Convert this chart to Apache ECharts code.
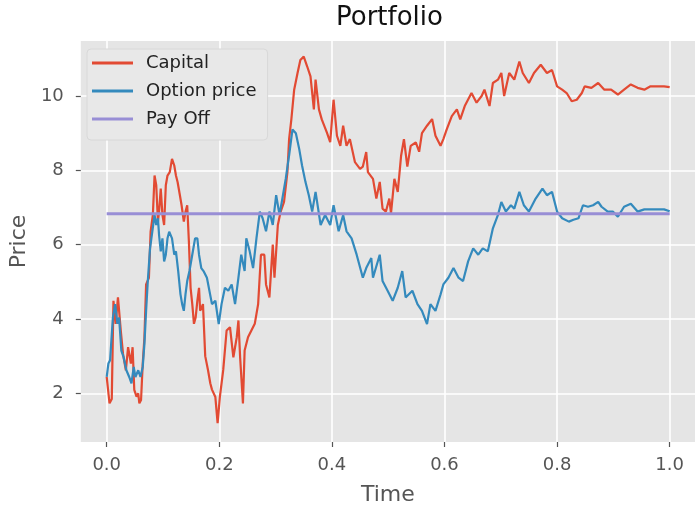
<!DOCTYPE html>
<html>
<head>
<meta charset="utf-8">
<script src="https://cdn.jsdelivr.net/npm/echarts@6/dist/echarts.min.js"></script>
<style>
html,body{margin:0;padding:0;background:#fff;}
#chart{width:695px;height:511px;}
</style>
</head>
<body>
<div id="chart"></div>
<script>
var capitalT = [0.000,0.005,0.009,0.012,0.016,0.020,0.025,0.029,0.034,0.038,0.043,0.046,0.049,0.053,0.056,0.058,0.061,0.064,0.067,0.070,0.075,0.078,0.082,0.085,0.088,0.091,0.093,0.096,0.099,0.102,0.105,0.108,0.112,0.116,0.120,0.123,0.126,0.130,0.133,0.137,0.140,0.143,0.146,0.149,0.152,0.155,0.158,0.161,0.164,0.166,0.171,0.175,0.180,0.184,0.187,0.193,0.197,0.201,0.207,0.213,0.219,0.225,0.231,0.234,0.237,0.242,0.245,0.251,0.257,0.263,0.269,0.274,0.280,0.283,0.289,0.295,0.298,0.304,0.309,0.315,0.321,0.324,0.328,0.333,0.339,0.344,0.350,0.356,0.362,0.368,0.371,0.377,0.382,0.391,0.397,0.403,0.409,0.415,0.420,0.426,0.432,0.441,0.450,0.455,0.461,0.464,0.473,0.479,0.485,0.490,0.496,0.502,0.505,0.511,0.517,0.523,0.528,0.534,0.540,0.549,0.555,0.560,0.569,0.578,0.584,0.593,0.598,0.604,0.613,0.622,0.628,0.636,0.648,0.657,0.666,0.671,0.680,0.686,0.695,0.701,0.706,0.715,0.724,0.733,0.739,0.750,0.759,0.771,0.782,0.791,0.800,0.809,0.817,0.826,0.835,0.844,0.849,0.861,0.873,0.884,0.896,0.908,0.919,0.931,0.943,0.955,0.966,0.978,0.990,1.000];
var capital = [2.44,1.73,1.85,4.49,3.87,4.58,3.69,3.06,2.62,3.24,2.80,3.24,2.09,1.91,2.00,1.73,1.82,2.80,3.50,4.93,5.11,6.35,6.80,7.86,7.60,6.62,6.89,7.51,6.80,6.53,7.60,7.86,7.95,8.31,8.13,7.86,7.68,7.33,7.06,6.62,6.89,7.06,6.08,4.84,4.40,3.87,4.04,4.49,4.84,4.22,4.40,3.00,2.62,2.27,2.10,1.90,1.20,1.90,2.63,3.69,3.78,2.97,3.51,3.96,2.97,1.73,3.15,3.51,3.69,3.87,4.40,5.73,5.73,4.93,4.58,6.00,5.11,6.53,6.89,7.15,7.95,8.84,9.37,10.17,10.62,10.97,11.06,10.80,10.53,9.64,10.44,9.64,9.37,9.02,8.76,9.90,8.93,8.66,9.20,8.66,8.84,8.22,8.04,8.10,8.49,7.95,7.77,7.24,7.69,6.97,6.89,7.24,6.84,7.77,7.42,8.40,8.84,8.10,8.66,8.75,8.50,9.00,9.20,9.38,8.93,8.66,8.84,9.10,9.46,9.64,9.37,9.73,10.08,9.82,10.00,10.17,9.73,10.35,10.44,10.62,10.00,10.62,10.44,10.93,10.62,10.35,10.62,10.84,10.62,10.70,10.26,10.17,10.08,9.86,9.90,10.08,10.26,10.22,10.35,10.17,10.17,10.04,10.17,10.31,10.22,10.17,10.26,10.26,10.26,10.24];

var optionT = [0.000,0.003,0.006,0.011,0.015,0.019,0.022,0.026,0.030,0.035,0.040,0.044,0.048,0.051,0.056,0.060,0.064,0.067,0.070,0.073,0.077,0.081,0.085,0.088,0.091,0.093,0.096,0.099,0.102,0.105,0.108,0.111,0.116,0.120,0.123,0.127,0.131,0.134,0.137,0.140,0.143,0.147,0.152,0.157,0.161,0.164,0.168,0.172,0.178,0.187,0.193,0.199,0.204,0.210,0.216,0.222,0.228,0.234,0.239,0.245,0.248,0.254,0.260,0.266,0.272,0.277,0.283,0.289,0.295,0.301,0.307,0.312,0.318,0.324,0.330,0.336,0.342,0.347,0.353,0.359,0.365,0.371,0.380,0.388,0.397,0.403,0.412,0.420,0.426,0.435,0.444,0.455,0.461,0.470,0.473,0.485,0.490,0.499,0.508,0.517,0.525,0.531,0.543,0.552,0.560,0.569,0.575,0.584,0.593,0.598,0.607,0.616,0.625,0.633,0.642,0.651,0.660,0.668,0.677,0.686,0.695,0.701,0.709,0.718,0.724,0.733,0.741,0.750,0.762,0.774,0.782,0.791,0.800,0.809,0.821,0.829,0.838,0.846,0.855,0.864,0.873,0.879,0.890,0.899,0.908,0.919,0.931,0.943,0.955,0.966,0.978,0.990,1.000];
var optionPrice = [2.44,2.80,2.89,4.04,4.40,3.87,4.04,3.15,2.97,2.62,2.44,2.27,2.71,2.44,2.62,2.44,2.71,3.33,4.22,5.02,5.90,6.35,6.80,6.53,6.71,6.26,5.82,6.17,5.55,5.73,6.17,6.35,6.17,5.73,5.82,5.29,4.67,4.40,4.22,4.67,5.02,5.29,5.73,6.17,6.17,5.73,5.37,5.29,5.11,4.40,4.49,3.86,4.40,4.84,4.76,4.93,4.40,5.11,5.73,5.29,6.17,5.82,5.37,6.17,6.89,6.71,6.36,6.89,6.53,7.33,6.80,7.24,7.77,8.40,9.10,9.00,8.57,8.13,7.69,7.33,6.89,7.42,6.53,6.80,6.53,7.06,6.36,6.80,6.36,6.17,5.73,5.11,5.37,5.64,5.11,5.73,5.02,4.76,4.49,4.84,5.29,4.58,4.76,4.40,4.22,3.86,4.40,4.22,4.66,4.93,5.11,5.37,5.11,5.02,5.55,5.90,5.73,5.90,5.82,6.44,6.80,7.15,6.89,7.06,6.97,7.42,7.06,6.89,7.24,7.51,7.33,7.42,6.89,6.71,6.62,6.67,6.71,7.06,7.02,7.06,7.15,7.02,6.89,6.89,6.75,7.02,7.10,6.89,6.95,6.95,6.95,6.95,6.90];

var payoffT = [0.0, 1.0];
var payoff = [6.83, 6.83];

var xTicks = [0, 0.2, 0.4, 0.6, 0.8, 1.0];
var yTicks = [2, 4, 6, 8, 10];

function pairs(t, v) { return t.map(function (x, i) { return [x, v[i]]; }); }

var FONT = 'DejaVu Sans';
var chart = echarts.init(document.getElementById('chart'), null, {renderer: 'canvas'});
chart.setOption({
  animation: false,
  backgroundColor: '#ffffff',
  title: {
    text: 'Portfolio',
    left: 336, top: 5, padding: 0,
    textStyle: {fontFamily: FONT, fontSize: 26, fontWeight: 'normal', color: '#111'}
  },
  legend: {
    orient: 'vertical', left: 87, top: 49,
    padding: [5, 11, 12, 5],
    itemWidth: 41, itemHeight: 3, itemGap: 10,
    icon: 'rect',
    backgroundColor: '#E8E8E8', borderColor: '#D8D8D8', borderWidth: 1, borderRadius: 4,
    textStyle: {fontFamily: FONT, fontSize: 18, color: '#222', lineHeight: 18, padding: [0, 0, 0, 8]},
    data: ['Capital', 'Option price', 'Pay Off']
  },
  grid: {left: 79, top: 41, width: 622, height: 405, show: true, backgroundColor: '#E5E5E5', borderWidth: 0},
  xAxis: {
    type: 'value', min: -0.046, max: 1.045,
    name: 'Time', nameLocation: 'middle', nameGap: 42,
    nameTextStyle: {fontFamily: FONT, fontSize: 22, color: '#555'},
    axisLine: {show: false, onZero: false},
    axisTick: {show: true, length: 5, lineStyle: {color: '#555', width: 1.2}, customValues: xTicks},
    axisLabel: {fontFamily: FONT, fontSize: 18, color: '#555', margin: 14,
      customValues: xTicks, formatter: function (v) { return v.toFixed(1); }},
    splitLine: {show: true, lineStyle: {color: '#ffffff', width: 1.6}}
  },
  yAxis: {
    type: 'value', min: 0.69, max: 11.48,
    name: 'Price', nameLocation: 'middle', nameGap: 50,
    nameTextStyle: {fontFamily: FONT, fontSize: 22, color: '#555'},
    axisLine: {show: false, onZero: false},
    axisTick: {show: true, length: 5, lineStyle: {color: '#555', width: 1.2}, customValues: yTicks},
    axisLabel: {fontFamily: FONT, fontSize: 18, color: '#555', margin: 17,
      customValues: yTicks},
    splitLine: {show: true, lineStyle: {color: '#ffffff', width: 1.6}}
  },
  series: [
    {name: 'Capital', type: 'line', data: pairs(capitalT, capital), showSymbol: false, symbol: 'none',
      itemStyle: {color: '#E24A33'}, lineStyle: {color: '#E24A33', width: 2.2}, z: 2},
    {name: 'Option price', type: 'line', data: pairs(optionT, optionPrice), showSymbol: false, symbol: 'none',
      itemStyle: {color: '#348ABD'}, lineStyle: {color: '#348ABD', width: 2.2}, z: 3},
    {name: 'Pay Off', type: 'line', data: pairs(payoffT, payoff), showSymbol: false, symbol: 'none',
      itemStyle: {color: '#988ED5'}, lineStyle: {color: '#988ED5', width: 3}, z: 4}
  ]
});
</script>
</body>
</html>
